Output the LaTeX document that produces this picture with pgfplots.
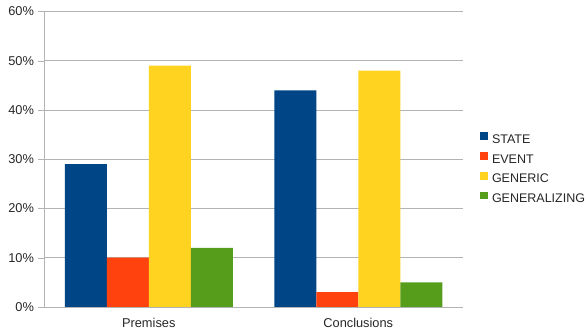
\documentclass[border=0pt]{standalone}
\usepackage{fontspec}
\setmainfont{Liberation Sans}
\usepackage{pgfplots}
\pgfplotsset{compat=1.18}

\definecolor{cState}{HTML}{004586}
\definecolor{cEvent}{HTML}{FF420E}
\definecolor{cGeneric}{HTML}{FFD320}
\definecolor{cGeneral}{HTML}{579D1C}
\definecolor{gridgray}{HTML}{B3B3B3}

\begin{document}
\begin{tikzpicture}[x=1pt,y=1pt]
\begin{axis}[
  scale only axis,
  width=419pt, height=295.5pt,
  ybar=0pt, bar width=42pt,
  xmin=-0.5, xmax=1.5,
  ymin=0, ymax=60,
  ytick={0,10,...,60},
  yticklabel={\pgfmathprintnumber{\tick}\%},
  /pgf/number format/assume math mode=true,
  xtick={0,1},
  xticklabels={Premises,Conclusions},
  extra x ticks={-0.5,0.5,1.5},
  extra x tick labels={},
  extra x tick style={major tick length=5pt, tick style={draw=gridgray}, grid=none},
  x tick style={draw=none},
  y tick style={draw=gridgray},
  major tick length=6pt,
  tick align=outside,
  ymajorgrids, grid style={draw=gridgray, line width=0.8pt},
  axis line style={draw=gridgray, line width=0.8pt},
  axis x line*=bottom, axis y line*=left,
  tick label style={font=\fontsize{12.8}{15}\selectfont, text=black!85},
  yticklabel style={xshift=-0.5pt},
  xticklabel style={yshift=-2pt},
  legend style={at={(1,0.472)}, anchor=west, xshift=17pt, draw=none, fill=none,
    font=\fontsize{12.5}{15}\selectfont, text=black!85, row sep=8.6pt,
    inner sep=0pt,
    nodes={inner sep=0pt, text height=9pt, text depth=0pt}},
  legend cell align=left,
  legend image code/.code={\fill[#1] (0pt,-1.2pt) rectangle (8pt,6.6pt);},
  /tikz/every odd column/.append style={column sep=3.8pt},
  clip=false,
]
\addplot[fill=cState, draw=none] coordinates {(0,29) (1,44)};
\addplot[fill=cEvent, draw=none] coordinates {(0,10) (1,3)};
\addplot[fill=cGeneric, draw=none] coordinates {(0,49) (1,48)};
\addplot[fill=cGeneral, draw=none] coordinates {(0,12) (1,5)};
\legend{STATE,EVENT,GENERIC,GENERALIZING}
\end{axis}
\pgfresetboundingbox
\path[use as bounding box] ([xshift=-44pt,yshift=-28pt]current axis.south west)
  rectangle ([xshift=124pt,yshift=11.5pt]current axis.north east);
\end{tikzpicture}
\end{document}
